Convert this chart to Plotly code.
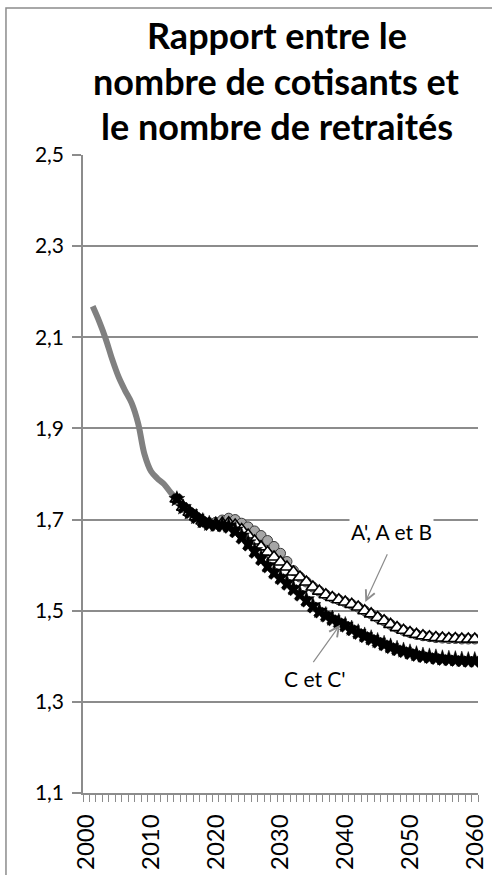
import plotly.graph_objects as go

# ---------------- data ----------------
hist_years = list(range(2001, 2015))
hist_vals = [2.168, 2.135, 2.097, 2.052, 2.013, 1.983, 1.956, 1.912, 1.843, 1.806,
             1.790, 1.778, 1.760, 1.745]

proj_years = list(range(2014, 2061))

a_prime = [1.745, 1.727, 1.716, 1.706, 1.697, 1.693, 1.694, 1.699, 1.703, 1.700,
           1.692, 1.684, 1.675, 1.665, 1.654, 1.641, 1.626, 1.608, 1.588, 1.574,
           1.563, 1.552, 1.543, 1.535, 1.529, 1.524, 1.519, 1.514, 1.508, 1.500,
           1.493, 1.485, 1.478, 1.470, 1.463, 1.457, 1.452, 1.448, 1.445, 1.443,
           1.441, 1.440, 1.439, 1.439, 1.438, 1.438, 1.438]

a_b = [1.745, 1.727, 1.716, 1.706, 1.697, 1.691, 1.690, 1.692, 1.693, 1.688,
       1.678, 1.666, 1.653, 1.640, 1.628, 1.618, 1.607, 1.596, 1.585, 1.574,
       1.563, 1.552, 1.543, 1.535, 1.529, 1.524, 1.519, 1.514, 1.508, 1.500,
       1.493, 1.485, 1.478, 1.470, 1.463, 1.457, 1.452, 1.448, 1.445, 1.443,
       1.441, 1.440, 1.439, 1.439, 1.438, 1.438, 1.438]

c_vals = [1.745, 1.727, 1.716, 1.706, 1.697, 1.691, 1.689, 1.689, 1.687, 1.678,
          1.665, 1.650, 1.633, 1.617, 1.600, 1.586, 1.574, 1.562, 1.550, 1.538,
          1.525, 1.512, 1.500, 1.491, 1.483, 1.476, 1.469, 1.461, 1.453, 1.446,
          1.440, 1.434, 1.428, 1.422, 1.417, 1.413, 1.409, 1.405, 1.402, 1.400,
          1.398, 1.396, 1.395, 1.394, 1.393, 1.392, 1.392]

c_prime = [1.745, 1.726, 1.714, 1.703, 1.694, 1.688, 1.686, 1.685, 1.682, 1.672,
           1.658, 1.643, 1.627, 1.611, 1.595, 1.581, 1.569, 1.557, 1.545, 1.533,
           1.520, 1.507, 1.496, 1.487, 1.479, 1.472, 1.465, 1.457, 1.449, 1.442,
           1.436, 1.430, 1.424, 1.418, 1.413, 1.409, 1.405, 1.401, 1.398, 1.396,
           1.394, 1.392, 1.391, 1.390, 1.389, 1.388, 1.388]

x_tick_vals = [2000, 2010, 2020, 2030, 2040, 2050, 2060]
x_tick_text = ["2000", "2010", "2020", "2030", "2040", "2050", "2060"]
y_tick_vals = [1.1, 1.3, 1.5, 1.7, 1.9, 2.1, 2.3, 2.5]
y_tick_text = ["1,1", "1,3", "1,5", "1,7", "1,9", "2,1", "2,3", "2,5"]
title_lines = ["Rapport entre le", "nombre de cotisants et", "le nombre de retraités"]
label_ab = "A', A et B"
label_c = "C et C'"

FONT = "Lato"
GRID = "#8c8c8c"

fig = go.Figure()

fig.add_trace(go.Scatter(x=hist_years, y=hist_vals, mode="lines",
                         line=dict(color="#808080", width=6, shape="spline"),
                         name="Observé", showlegend=False))

fig.add_trace(go.Scatter(x=proj_years, y=a_prime, mode="lines+markers",
                         line=dict(color="#404040", width=1),
                         marker=dict(symbol="circle", size=10, color="#a6a6a6",
                                     line=dict(color="#3a3a3a", width=1)),
                         name="A'", showlegend=False))

fig.add_trace(go.Scatter(x=proj_years, y=a_b, mode="lines+markers",
                         line=dict(color="#000000", width=1),
                         marker=dict(symbol="triangle-up", size=12, color="#ffffff",
                                     line=dict(color="#000000", width=1.6)),
                         name="A et B", showlegend=False))

fig.add_trace(go.Scatter(x=proj_years, y=c_prime, mode="lines+markers",
                         line=dict(color="#000000", width=1.5),
                         marker=dict(symbol="x", size=10, color="#000000",
                                     line=dict(color="#000000", width=0.5)),
                         name="C'", showlegend=False))

fig.add_trace(go.Scatter(x=proj_years, y=c_vals, mode="lines+markers",
                         line=dict(color="#000000", width=1.5),
                         marker=dict(symbol="star", size=12, color="#000000",
                                     line=dict(color="#000000", width=0.5)),
                         name="C", showlegend=False))

# title lines
title_y = [1.188, 1.116, 1.045]
for txt, yy in zip(title_lines, title_y):
    fig.add_annotation(text="<b>" + txt + "</b>", xref="paper", yref="paper",
                       x=0.49, y=yy, xanchor="center", yanchor="middle",
                       showarrow=False, font=dict(family=FONT, size=36, color="#000000"))

# labels with arrows
fig.add_annotation(text=label_ab, x=2047.2, y=1.674, showarrow=False,
                   font=dict(family=FONT, size=21, color="#000000"),
                   bgcolor="#ffffff", xanchor="center", yanchor="middle")
fig.add_annotation(text="", x=2043.1, y=1.519, ax=2046.6, ay=1.627,
                   axref="x", ayref="y", showarrow=True, arrowhead=5,
                   arrowsize=1.6, arrowwidth=1.2, arrowcolor="#8c8c8c")
fig.add_annotation(text=label_c, x=2035.3, y=1.352, showarrow=False,
                   font=dict(family=FONT, size=21, color="#000000"),
                   xanchor="center", yanchor="middle")
fig.add_annotation(text="", x=2039.2, y=1.469, ax=2034.9, ay=1.384,
                   axref="x", ayref="y", showarrow=True, arrowhead=5,
                   arrowsize=1.6, arrowwidth=1.2, arrowcolor="#8c8c8c")

# chart border
fig.add_shape(type="rect", xref="paper", yref="paper",
              x0=-0.195, x1=1.1, y0=-0.2, y1=1.2304,
              line=dict(color="#8c8c8c", width=1.5), fillcolor="rgba(0,0,0,0)",
              layer="below")

fig.update_xaxes(range=[1999.5, 2060.5], tickmode="array", tickvals=x_tick_vals,
                 ticktext=x_tick_text, tickangle=-90, ticks="",
                 tickfont=dict(family=FONT, size=24, color="#000000"),
                 ticklabelstandoff=10, automargin=False,
                 showline=True, linecolor=GRID, linewidth=1.5, showgrid=False,
                 zeroline=False,
                 minor=dict(tickmode="array",
                            tickvals=[1999.5 + i for i in range(62)],
                            ticks="outside", ticklen=7, tickcolor=GRID,
                            tickwidth=1, showgrid=False))

fig.update_yaxes(range=[1.1, 2.5], tickmode="array", tickvals=y_tick_vals,
                 ticktext=y_tick_text, ticks="outside", ticklen=9, tickcolor=GRID,
                 tickwidth=1.5, tickfont=dict(family=FONT, size=21, color="#000000"),
                 ticklabelstandoff=4, automargin=False,
                 showline=True, linecolor=GRID, linewidth=1.5,
                 showgrid=True, gridcolor=GRID, gridwidth=1.5, zeroline=False)

fig.update_layout(width=492, height=875, margin=dict(l=83, r=14, t=155, b=82),
                  paper_bgcolor="#ffffff", plot_bgcolor="#ffffff",
                  showlegend=False)

fig.write_html("out.html")
